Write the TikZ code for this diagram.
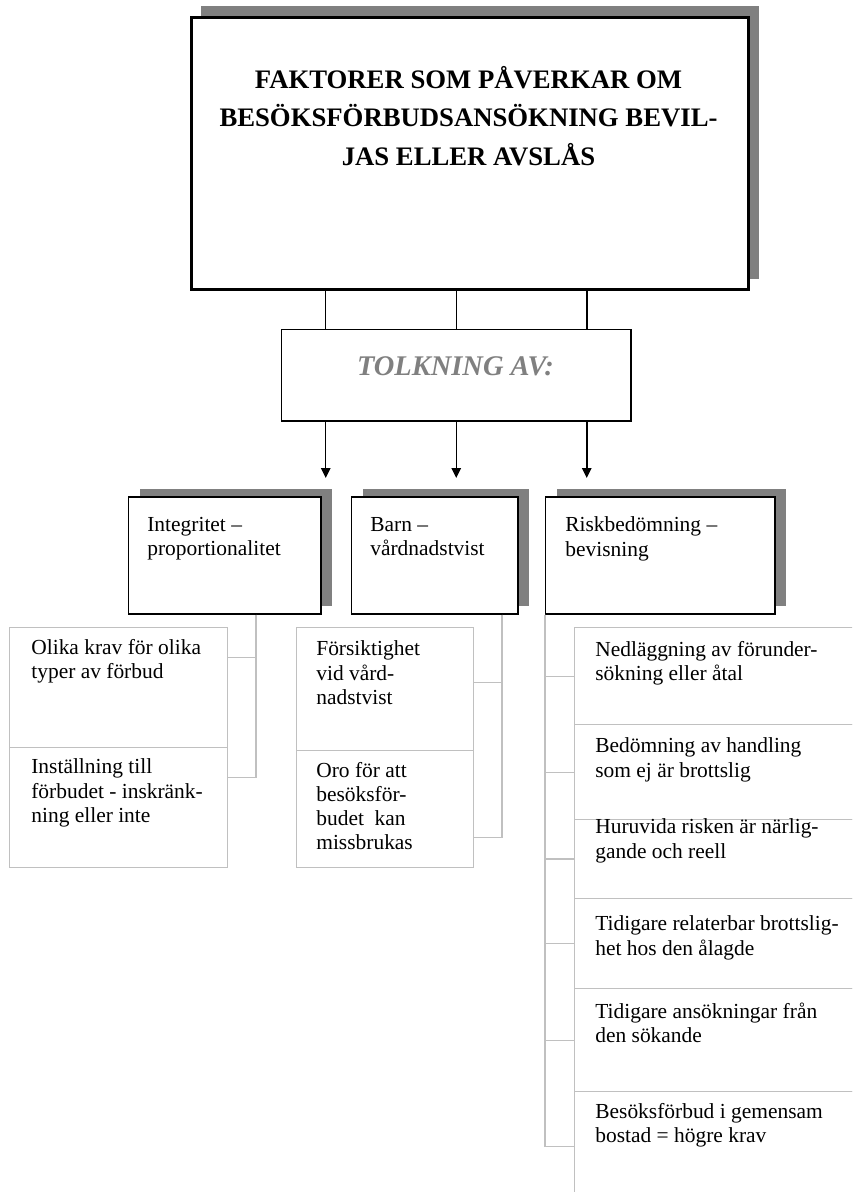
\documentclass[tikz,border=0pt]{standalone}
\usepackage{fontspec}
\setmainfont{Liberation Serif}
\usetikzlibrary{arrows.meta,shadows}

\definecolor{shadowgray}{HTML}{808080}
\definecolor{linegray}{HTML}{C0C0C0}

\newcommand{\bodyfont}{\fontsize{12.2pt}{13.7pt}\selectfont}

\tikzset{
	headbox/.style={draw, line width=1.7pt, fill=white, anchor=north west, inner sep=0pt,
		drop shadow={shadow xshift=2mm, shadow yshift=2.2mm, fill=shadowgray, opacity=1}},
	midbox/.style={draw, line width=0.85pt, fill=white, anchor=north west, inner sep=0pt,
		minimum height=23.4mm,
		drop shadow={shadow xshift=2.2mm, shadow yshift=1.6mm, fill=shadowgray, opacity=1}},
	plainbox/.style={draw, line width=0.85pt, anchor=north west, inner sep=0pt},
	cell/.style={draw=linegray, line width=0.8pt, anchor=north west, inner sep=0pt},
	txt/.style={anchor=north west, inner sep=0pt, align=left, font=\bodyfont,
		execute at begin node={\rule{0pt}{11pt}}},
	link/.style={line width=0.85pt},
	arr/.style={line width=0.85pt, -{Triangle[length=2mm, width=1.9mm]}, shorten >=3.6mm},
	sub/.style={draw=linegray, line width=0.8pt}
}

\begin{document}
\begin{tikzpicture}[x=0.2mm, y=-0.2mm]
	\path[use as bounding box, clip] (0,0) rectangle (852,1192);

	% top box
	\node[headbox, minimum width=111.4mm, minimum height=54.4mm] (head) at (190,16) {};
	\node[anchor=north, inner sep=0pt, align=center, font=\fontsize{15.2pt}{21.9pt}\selectfont\bfseries,
		execute at begin node={\rule{0pt}{15pt}}] (headtxt) at (468.5,65.6)
		{FAKTORER SOM PÅVERKAR OM\\BESÖKSFÖRBUDSANSÖKNING BEVIL-\\JAS ELLER AVSLÅS};

	\node[plainbox, minimum width=69.8mm, minimum height=18.2mm] (tolk) at (281,329) {};
	\node[anchor=base, inner sep=0pt, text=shadowgray, font=\fontsize{16.2pt}{18pt}\selectfont\bfseries\itshape]
		(tolktxt) at (455.5,375) {TOLKNING AV:};

	\draw[link] ([xshift=-26.1mm]tolk.north) -- ([xshift=-26.1mm]tolk.north |- head.south);
	\draw[link] (tolk.north) -- (tolk.north |- head.south);
	\draw[link] ([xshift=26.1mm]tolk.north) -- ([xshift=26.1mm]tolk.north |- head.south);

	% second row
	\node[midbox, minimum width=38.4mm] (integ) at (128,496) {};
	\node[midbox, minimum width=33.2mm] (barn) at (351,496) {};
	\node[midbox, minimum width=45.8mm] (risk) at (545,496) {};
	\node[txt] (integtxt) at (147,516.7) {Integritet –\\proportionalitet};
	\node[txt] (barntxt) at (370,516.7) {Barn –\\vårdnadstvist};
	\node[txt] (risktxt) at (565,516.7) {Riskbedömning –\\bevisning};

	\draw[arr] ([xshift=-26.1mm]tolk.south) -- ([xshift=-26.1mm]tolk.south |- integ.north);
	\draw[arr] (tolk.south) -- (tolk.south |- barn.north);
	\draw[arr] ([xshift=26.1mm]tolk.south) -- ([xshift=26.1mm]tolk.south |- risk.north);

	% left column
	\node[cell, minimum width=43.6mm, minimum height=24mm] (olika) at (9,627) {};
	\node[cell, minimum width=43.6mm, minimum height=24mm] (inst) at (9,747) {};
	\node[txt] (olikatxt) at (31,638.7) {Olika krav för olika\\typer av förbud};
	\node[txt] (insttxt) at (31,758.7) {Inställning till\\förbudet - inskränk-\\ning eller inte};

	\coordinate (lbus) at (integ.south -| 256,0);
	\draw[sub] (lbus) |- ([yshift=6mm]olika.east);
	\draw[sub] (lbus) |- ([yshift=6mm]inst.east);

	% middle column
	\node[cell, minimum width=35.4mm, minimum height=24.6mm] (forsik) at (296,627) {};
	\node[cell, minimum width=35.4mm, minimum height=23.4mm] (oro) at (296,750) {};
	\node[txt] (forsiktxt) at (316,640.7) {Försiktighet\\vid vård-\\nadstvist};
	\node[txt] (orotxt) at (316,761.7) {Oro för att\\besöksför-\\budet\ \ kan\\missbrukas};

	\coordinate (mbus) at (barn.south -| 502,0);
	\draw[sub] (mbus) |- ([yshift=1.3mm]forsik.east);
	\draw[sub] (mbus) |- ([yshift=-5.7mm]oro.east);

	% right column
	\node[cell, minimum width=60mm, minimum height=19.4mm] (ned) at (574,627) {};
	\node[cell, minimum width=60mm, minimum height=19mm] (bed) at (574,724) {};
	\node[cell, minimum width=60mm, minimum height=15.7mm] (hur) at (574,819) {};
	\node[cell, minimum width=60mm, minimum height=18.1mm] (tid) at (574,897.5) {};
	\node[cell, minimum width=60mm, minimum height=20.6mm] (ans) at (574,988) {};
	\node[cell, minimum width=60mm, minimum height=21.8mm] (bes) at (574,1091) {};
	\node[txt] (nedtxt) at (595,640.7) {Nedläggning av förunder-\\sökning eller åtal};
	\node[txt] (bedtxt) at (595,737.7) {Bedömning av handling\\som ej är brottslig};
	\node[txt] (hurtxt) at (595,818.7) {Huruvida risken är närlig-\\gande och reell};
	\node[txt] (tidtxt) at (595,915.7) {Tidigare relaterbar brottslig-\\het hos den ålagde};
	\node[txt] (anstxt) at (595,1002.7) {Tidigare ansökningar från\\den sökande};
	\node[txt] (bestxt) at (595,1102.7) {Besöksförbud i gemensam\\bostad = högre krav};

	\coordinate (rbus) at (risk.south west);
	\foreach \n in {ned,bed,hur,tid,ans,bes}
		\draw[sub] (rbus) |- (\n.west);
\end{tikzpicture}
\end{document}
